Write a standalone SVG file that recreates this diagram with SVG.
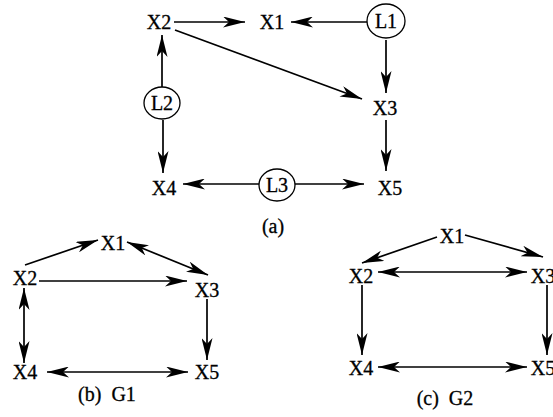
<svg xmlns="http://www.w3.org/2000/svg" width="553" height="417" viewBox="0 0 553 417">
<style>
text{font-family:"Liberation Serif","DejaVu Serif",serif;font-size:20px;fill:#000;stroke:#000;stroke-width:0.3;text-anchor:middle;white-space:pre}
.c line{stroke:#000;stroke-width:1.7;fill:none}
.n ellipse{fill:none;stroke:#000;stroke-width:1.3}
</style>
<defs>
<marker id="ah" viewBox="0 0 22 11" refX="22" refY="5.5" markerWidth="22" markerHeight="11" markerUnits="userSpaceOnUse" orient="auto-start-reverse">
<path d="M0,0 L22,5.5 L0,11 L6,5.5 z" fill="#000"/>
</marker>
</defs>
<rect width="553" height="417" fill="#fff"/>
<g class="c" id="connectors">
<line x1="174" y1="22" x2="245" y2="22" marker-end="url(#ah)"/>
<line x1="367" y1="22" x2="291" y2="22" marker-end="url(#ah)"/>
<line x1="175" y1="30" x2="362" y2="99" marker-end="url(#ah)"/>
<line x1="386" y1="40" x2="386" y2="93" marker-end="url(#ah)"/>
<line x1="162" y1="87" x2="162" y2="35" marker-end="url(#ah)"/>
<line x1="163" y1="120" x2="163" y2="173" marker-end="url(#ah)"/>
<line x1="259" y1="184" x2="183" y2="184" marker-end="url(#ah)"/>
<line x1="295" y1="184" x2="364" y2="184" marker-end="url(#ah)"/>
<line x1="386" y1="120" x2="386" y2="171" marker-end="url(#ah)"/>
<line x1="25" y1="265" x2="98" y2="240" marker-end="url(#ah)"/>
<line x1="127" y1="242" x2="208" y2="275" marker-start="url(#ah)" marker-end="url(#ah)"/>
<line x1="39" y1="281" x2="187" y2="281" marker-end="url(#ah)"/>
<line x1="24" y1="288" x2="24" y2="363" marker-start="url(#ah)" marker-end="url(#ah)"/>
<line x1="207" y1="299" x2="207" y2="360" marker-end="url(#ah)"/>
<line x1="47" y1="372" x2="188" y2="372" marker-start="url(#ah)" marker-end="url(#ah)"/>
<line x1="437" y1="237" x2="362" y2="263" marker-end="url(#ah)"/>
<line x1="465" y1="235" x2="543" y2="257" marker-end="url(#ah)"/>
<line x1="378" y1="272" x2="527" y2="272" marker-start="url(#ah)" marker-end="url(#ah)"/>
<line x1="362" y1="285" x2="362" y2="355" marker-end="url(#ah)"/>
<line x1="547" y1="285" x2="547" y2="355" marker-end="url(#ah)"/>
<line x1="378" y1="367" x2="527" y2="367" marker-start="url(#ah)" marker-end="url(#ah)"/>
</g>
<g class="n" id="a-X2"><text x="159" y="29">X2</text></g>
<g class="n" id="a-X1"><text x="272" y="29">X1</text></g>
<g class="n" id="a-L1"><ellipse cx="386" cy="21" rx="19" ry="17"/><text x="386" y="28">L1</text></g>
<g class="n" id="a-X3"><text x="385" y="115">X3</text></g>
<g class="n" id="a-L2"><ellipse cx="162" cy="103" rx="18" ry="16"/><text x="162" y="110">L2</text></g>
<g class="n" id="a-X4"><text x="164" y="195">X4</text></g>
<g class="n" id="a-L3"><ellipse cx="277" cy="185" rx="18" ry="16"/><text x="277" y="192">L3</text></g>
<g class="n" id="a-X5"><text x="390" y="195">X5</text></g>
<text x="273" y="233">(a)</text>
<g class="n" id="b-X1"><text x="113" y="250">X1</text></g>
<g class="n" id="b-X2"><text x="25" y="285">X2</text></g>
<g class="n" id="b-X3"><text x="207" y="297">X3</text></g>
<g class="n" id="b-X4"><text x="25" y="379">X4</text></g>
<g class="n" id="b-X5"><text x="207" y="379">X5</text></g>
<text x="107" y="401">(b)  G1</text>
<g class="n" id="c-X1"><text x="452" y="243">X1</text></g>
<g class="n" id="c-X2"><text x="361" y="283">X2</text></g>
<g class="n" id="c-X3"><text x="543" y="283">X3</text></g>
<g class="n" id="c-X4"><text x="361" y="375">X4</text></g>
<g class="n" id="c-X5"><text x="543" y="375">X5</text></g>
<text x="445" y="405">(c)  G2</text>
</svg>
